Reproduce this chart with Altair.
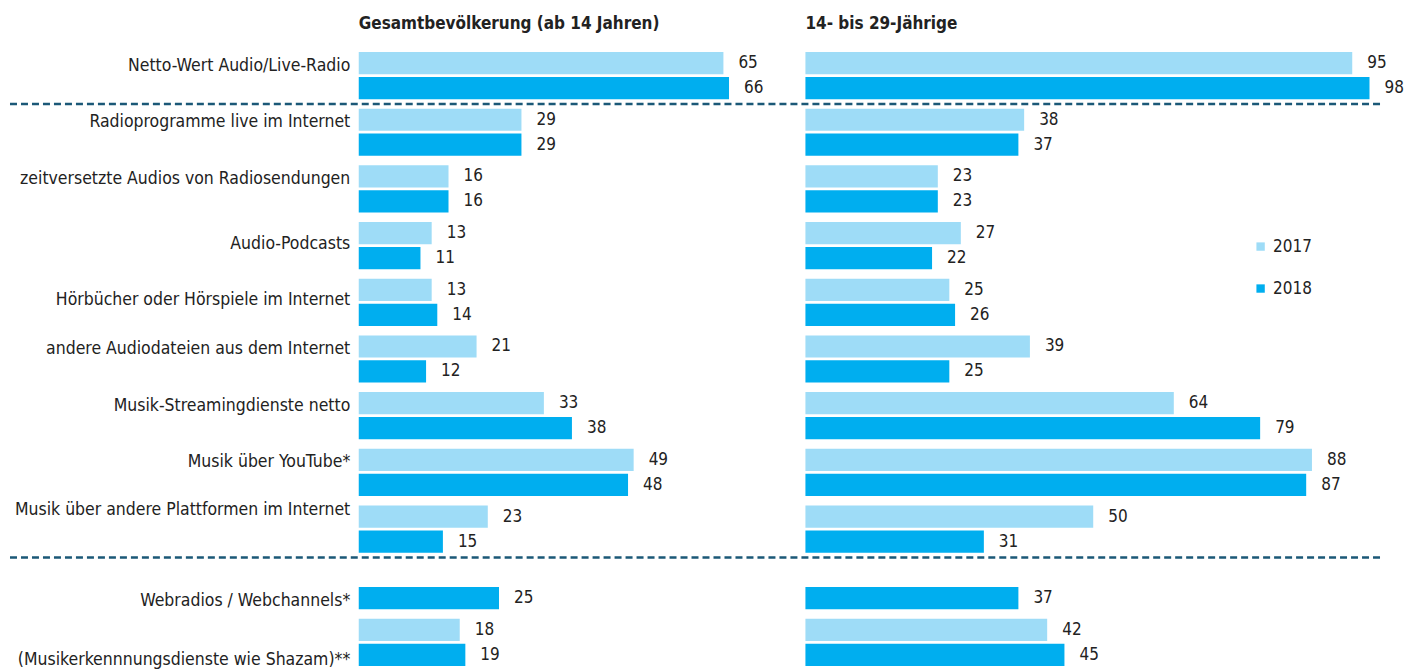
import altair as alt
import pandas as pd

categories = [
    "Netto-Wert Audio/Live-Radio",
    "Radioprogramme live im Internet",
    "zeitversetzte Audios von Radiosendungen",
    "Audio-Podcasts",
    "Hörbücher oder Hörspiele im Internet",
    "andere Audiodateien aus dem Internet",
    "Musik-Streamingdienste netto",
    "Musik über YouTube*",
    "Musik über andere Plattformen im Internet",
    "Webradios / Webchannels*",
    "(Musikerkennnungsdienste wie Shazam)**",
]
years = ["2017", "2018"]
gesamt_2017 = [65, 29, 16, 13, 13, 21, 33, 49, 23, None, 18]
gesamt_2018 = [66, 29, 16, 11, 14, 12, 38, 48, 15, 25, 19]
jung_2017 = [95, 38, 23, 27, 25, 39, 64, 88, 50, None, 42]
jung_2018 = [98, 37, 23, 22, 26, 25, 79, 87, 31, 37, 45]
separators = ["Radioprogramme live im Internet", "Webradios / Webchannels*"]
titles = ["Gesamtbevölkerung (ab 14 Jahren)", "14- bis 29-Jährige"]
colors = ["#9edcf7", "#00aeef"]

FONT = "Liberation Sans Narrow, Arial Narrow, DejaVu Sans Condensed, sans-serif"
TXT = "#222222"


def long_df(v17, v18):
    rows = []
    for c, a, b in zip(categories, v17, v18):
        if a is not None:
            rows.append({"cat": c, "year": "2017", "value": a})
        if b is not None:
            rows.append({"cat": c, "year": "2018", "value": b})
    return pd.DataFrame(rows)


df_left = long_df(gesamt_2017, gesamt_2018)
df_right = long_df(jung_2017, jung_2018)
df_sep = pd.DataFrame({"cat": separators})

yscale = alt.Scale(domain=categories, paddingInner=0, paddingOuter=0)
yoff = alt.YOffset("year:N", scale=alt.Scale(domain=years, paddingInner=0.11, paddingOuter=0.19))

LW, RW, GAP, H = 393, 576, 54, 624

label_offset = {
    "condition": [
        {"test": "datum.value == 'Audio-Podcasts' || datum.value == 'Hörbücher oder Hörspiele im Internet'", "value": -2},
        {"test": "datum.value == 'Webradios / Webchannels*'", "value": 15},
        {"test": "datum.value == '(Musikerkennnungsdienste wie Shazam)**'", "value": 18},
        {"test": "datum.value == 'Musik über andere Plattformen im Internet'", "value": -19},
    ],
    "value": -10,
}


def panel(df, xmax, width, title, show_axis, show_legend):
    yaxis = alt.Axis(title=None, ticks=False, domain=False, labelFont=FONT, labelFontSize=17.5,
                     labelColor=TXT, labelPadding=9, labelLimit=420,
                     labelOffset=label_offset) if show_axis else None
    x = alt.X("value:Q", scale=alt.Scale(domain=[0, xmax], nice=False), axis=None)
    y = alt.Y("cat:N", scale=yscale, sort=categories, axis=yaxis)
    legend = alt.Legend(title=None, orient="none", legendX=447, legendY=191, symbolType="square",
                        symbolSize=70, symbolStrokeWidth=0, labelFont=FONT, labelFontSize=17,
                        labelColor=TXT, rowPadding=24, labelOffset=4) if show_legend else None
    bars = alt.Chart(df).mark_bar(cornerRadius=0).encode(
        x=x, y=y, yOffset=yoff,
        color=alt.Color("year:N", scale=alt.Scale(domain=years, range=colors), legend=legend),
    )
    labels = alt.Chart(df).mark_text(align="left", baseline="middle", dx=15, font=FONT,
                                     fontSize=17, color=TXT).encode(
        x=x, y=alt.Y("cat:N", scale=yscale, sort=categories), yOffset=yoff, text="value:Q"
    )
    layers = [bars, labels]
    if show_axis:
        rules = alt.Chart(df_sep).mark_rule(strokeDash=[7, 4], strokeWidth=2.5, color="#1b5877").encode(
            y=alt.Y("cat:N", scale=yscale, sort=categories, bandPosition=0),
            x=alt.value(-349), x2=alt.value(LW + GAP + RW + 2),
        )
        layers.append(rules)
    return alt.layer(*layers).properties(
        width=width, height=H,
        title=alt.TitleParams(title, anchor="start", frame="group", font=FONT, fontSize=17,
                              fontWeight="bold", color=TXT, offset=14),
    )


left = panel(df_left, 70, LW, titles[0], True, False)
right = panel(df_right, 100, RW, titles[1], False, True)

chart = alt.hconcat(left, right, spacing=GAP, bounds="flush").resolve_scale(
    color="independent"
).properties(padding={"top": 7, "left": 0, "right": 0, "bottom": 0}).configure_view(stroke=None)

chart.save("out.html", embed_options={"renderer": "svg", "actions": False})
